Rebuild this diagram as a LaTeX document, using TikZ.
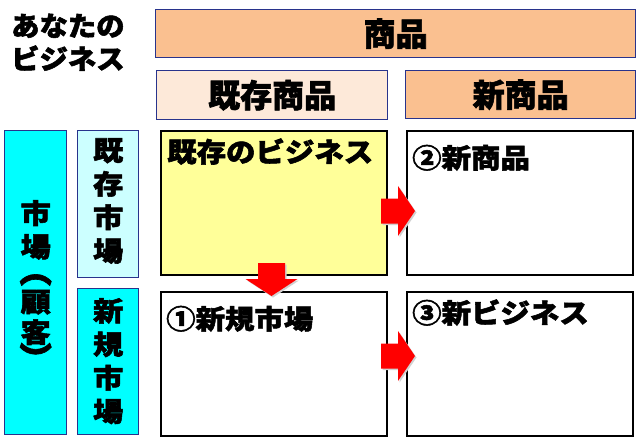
\documentclass[tikz,border=0pt]{standalone}
\usepackage{fontspec}
\usepackage{graphicx}
\usetikzlibrary{calc}
\newfontfamily\jp{Noto Sans CJK JP}[BoldFeatures={FakeBold=2}]
\newfontfamily\jpt{Noto Sans CJK JP}[FakeStretch=1.05, BoldFeatures={FakeBold=2}]
\newfontfamily\jpw{Noto Sans CJK JP}[FakeStretch=1.12, BoldFeatures={FakeBold=2}]
\newfontfamily\jpg{Noto Sans CJK JP}[FakeStretch=1.09, BoldFeatures={FakeBold=2}]
\definecolor{navy}{HTML}{28338C}
\definecolor{peach}{HTML}{FAC090}
\definecolor{lightpeach}{HTML}{FDE9D9}
\definecolor{cyanbox}{HTML}{00FFFF}
\definecolor{lightcyan}{HTML}{CCFFFF}
\definecolor{yelbox}{HTML}{FFFF99}
\definecolor{arrowred}{HTML}{FF0000}
\newcommand\vparopen{\rotatebox[origin=c]{-90}{\scalebox{1.2}{（}}}
\newcommand\vparclose{\rotatebox[origin=c]{-90}{\scalebox{1.2}{）}}}
\tikzset{
  hdr/.style={draw=navy, line width=1.4pt, inner sep=0pt, anchor=north west},
  hdrtext/.style={inner sep=0pt, font=\jp\bfseries\fontsize{32}{36}\selectfont},
  side/.style={draw=navy, line width=1.4pt, inner sep=0pt, anchor=north west},
  cell/.style={draw=black, line width=2pt, inner sep=0pt, anchor=north west,
    minimum width=226pt, minimum height=144pt},
  celltext/.style={inner sep=0pt, anchor=base west,
    font=\jpg\bfseries\fontsize{27}{30}\selectfont},
  vtext/.style={inner sep=0pt, align=center, anchor=north,
    font=\jpw\bfseries\fontsize{27}{33.5}\selectfont},
  title/.style={inner sep=0pt, anchor=base west,
    font=\jpt\bfseries\fontsize{27}{30}\selectfont},
  blockarrow/.style={fill=arrowred, draw=none},
  arrowshadow/.style={fill=black!18, draw=none},
}
\begin{document}
\begin{tikzpicture}[x=1pt, y=-1pt]
\useasboundingbox (0,0) rectangle (640,439);
% title
\node[title] (t1) at (11,36) {あなたの};
\node[title] (t2) at (11,69) {ビジネス};
% header
\node[hdr, fill=peach, minimum width=480pt, minimum height=48pt] (shohin) at (155,9) {};
\node[hdrtext] (shohint) at (shohin.center) {商品};
\node[hdr, fill=lightpeach, minimum width=231pt, minimum height=49pt] (kizonsh) at (156,70) {};
\node[hdrtext] (kizonsht) at (kizonsh.center) {既存商品};
\node[hdr, fill=peach, minimum width=230pt, minimum height=48pt] (shinsh) at (405,70) {};
\node[hdrtext] (shinsht) at (shinsh.center) {新商品};
% left side
\node[side, fill=cyanbox, minimum width=62pt, minimum height=304pt] (market) at (4,130) {};
\node[vtext] (markettext) at ($(market.north)+(0,70)$) {市\\場\\[-9pt]\vparopen\\[-3pt]顧\\[-3pt]客\\[-4pt]\vparclose};
\node[side, fill=lightcyan, minimum width=61pt, minimum height=147pt] (kizonm) at (77,130) {};
\node[vtext] (kizonmtext) at ($(kizonm.north)+(0,8)$) {既\\存\\市\\場};
\node[side, fill=cyanbox, minimum width=61pt, minimum height=146pt] (shinm) at (77,288) {};
\node[vtext] (shinmtext) at ($(shinm.north)+(0,10)$) {新\\規\\市\\場};
% grid
\node[cell, fill=yelbox] (biz) at (160,130) {};
\node[cell, fill=white] (c2) at (406,130) {};
\node[cell, fill=white] (c1) at (160,291) {};
\node[cell, fill=white] (c3) at (406,291) {};
\node[celltext] (bizt) at ($(biz.north west)+(7,32)$) {既存のビジネス};
\node[celltext] (c2t) at ($(c2.north west)+(6,38)$) {②新商品};
\node[celltext] (c1t) at ($(c1.north west)+(6,38)$) {①新規市場};
\node[celltext] (c3t) at ($(c3.north west)+(6,32)$) {③新ビジネス};
% block arrows
\foreach \s/\st in {1.5/arrowshadow, 0/blockarrow}{
  \fill[\st] ($(biz.east)+(-7+\s,-4.5+\s)$) -- ++(17,0) -- ++(0,-12.5) -- ++(17,25) -- ++(-17,25) -- ++(0,-12.5) -- ++(-17,0) -- cycle;
  \fill[\st] ($(c1.east)+(-7+\s,-20.5+\s)$) -- ++(17,0) -- ++(0,-12.5) -- ++(17,25) -- ++(-17,25) -- ++(0,-12.5) -- ++(-17,0) -- cycle;
  \fill[\st] ($(biz.south)+(-16+\s,-13+\s)$) -- ++(27,0) -- ++(0,16) -- ++(12.5,0) -- ++(-26,17) -- ++(-26,-17) -- ++(12.5,0) -- cycle;
}
\end{tikzpicture}
\end{document}
